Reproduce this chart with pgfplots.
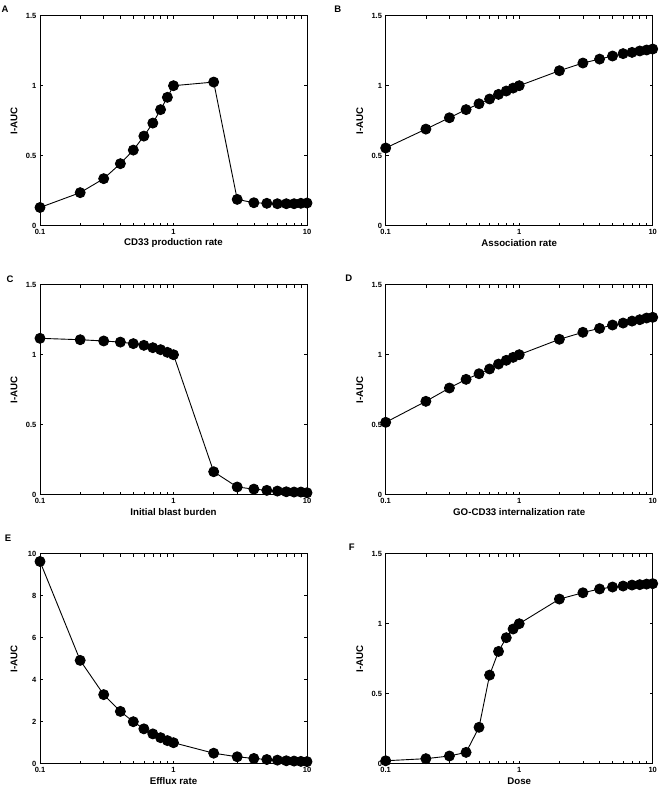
\documentclass[border=0pt]{standalone}
\usepackage{fontspec}
\setmainfont{Liberation Sans}
\usepackage{pgfplots}
\pgfplotsset{compat=1.18}
\usepgfplotslibrary{groupplots}

\pgfplotsset{
  sens/.style={
    scale only axis,
    width=267pt, height=210pt,
    xmode=log,
    xmin=0.1, xmax=10,
    xtick={0.1,1,10},
    xticklabels={0.1,1,10},
    minor xtick={},
    ymin=0,
    tick align=inside,
    major tick length=3pt,
    axis line style={line width=0.8pt},
    every tick/.style={line width=0.6pt},
    clip=false,
    /pgf/number format/assume math mode=true,
    tick label style={font=\fontsize{7.5}{8}\selectfont\bfseries, inner sep=0.5pt},
    xticklabel style={yshift=-2.8pt},
    yticklabel style={xshift=-3pt},
    label style={font=\fontsize{9.7}{11}\selectfont\bfseries},
    xlabel style={at={(axis description cs:0.5,-0.083)}, anchor=center},
    ylabel style={at={(axis description cs:-0.097,0.5)}, anchor=center},
    ylabel={I-AUC},
  },
  pts/.style={black, line width=0.9pt, mark=*, mark size=5pt, mark options={solid, fill=black}},
  iauc/.style={ymax=1.5, ytick={0,0.5,1,1.5}, yticklabels={0,0.5,1,1.5}},
}
\newcommand{\panel}[3]{\node[font=\fontsize{9.5}{11}\selectfont\bfseries] at (rel axis cs:0,1) [xshift=#1, yshift=#2] {#3};}

\begin{document}
\begin{tikzpicture}
\begin{groupplot}[
  group style={group size=2 by 3, horizontal sep=78.7pt, vertical sep=59pt},
  sens,
]
\nextgroupplot[iauc, xlabel={CD33 production rate}]
\coordinate (tl) at (rel axis cs:0,1);
\addplot[pts] coordinates {
(0.1,0.13) (0.2,0.236) (0.3,0.336) (0.4,0.443) (0.5,0.54) (0.6,0.64) (0.7,0.733) (0.8,0.829) (0.9,0.917) (1,1.0)
(2,1.026) (3,0.188) (4,0.164) (5,0.16) (6,0.157) (7,0.157) (8,0.157) (9,0.16) (10,0.162)};
\panel{-35pt}{6pt}{A}

\nextgroupplot[iauc, xlabel={Association rate}]
\addplot[pts] coordinates {
(0.1,0.555) (0.2,0.69) (0.3,0.771) (0.4,0.829) (0.5,0.871) (0.6,0.905) (0.7,0.938) (0.8,0.962) (0.9,0.983) (1,1.0)
(2,1.107) (3,1.162) (4,1.19) (5,1.212) (6,1.229) (7,1.238) (8,1.248) (9,1.255) (10,1.262)};
\panel{-48pt}{6pt}{B}

\nextgroupplot[iauc, xlabel={Initial blast burden}]
\addplot[pts] coordinates {
(0.1,1.117) (0.2,1.107) (0.3,1.098) (0.4,1.09) (0.5,1.079) (0.6,1.067) (0.7,1.05) (0.8,1.036) (0.9,1.017) (1,1.0)
(2,0.164) (3,0.055) (4,0.04) (5,0.031) (6,0.026) (7,0.021) (8,0.019) (9,0.019) (10,0.014)};
\panel{-30pt}{5pt}{C}

\nextgroupplot[iauc, xlabel={GO-CD33 internalization rate}]
\addplot[pts] coordinates {
(0.1,0.517) (0.2,0.667) (0.3,0.762) (0.4,0.824) (0.5,0.864) (0.6,0.898) (0.7,0.933) (0.8,0.96) (0.9,0.981) (1,1.0)
(2,1.11) (3,1.16) (4,1.188) (5,1.212) (6,1.226) (7,1.24) (8,1.25) (9,1.262) (10,1.267)};
\panel{-37pt}{6pt}{D}

\nextgroupplot[ymax=10, ytick={0,2,4,6,8,10}, xlabel={Efflux rate}]
\addplot[pts] coordinates {
(0.1,9.63) (0.2,4.92) (0.3,3.29) (0.4,2.49) (0.5,2.0) (0.6,1.66) (0.7,1.42) (0.8,1.24) (0.9,1.1) (1,1.0)
(2,0.5) (3,0.33) (4,0.25) (5,0.2) (6,0.17) (7,0.14) (8,0.125) (9,0.11) (10,0.1)};
\panel{-32pt}{15pt}{E}

\nextgroupplot[iauc, xlabel={Dose}]
\addplot[pts] coordinates {
(0.1,0.021) (0.2,0.036) (0.3,0.055) (0.4,0.081) (0.5,0.26) (0.6,0.633) (0.7,0.802) (0.8,0.9) (0.9,0.962) (1,1.0)
(2,1.176) (3,1.221) (4,1.248) (5,1.262) (6,1.269) (7,1.276) (8,1.279) (9,1.283) (10,1.286)};
\panel{-34pt}{6pt}{F}
\end{groupplot}
\pgfresetboundingbox
\path[use as bounding box] (tl) ++(-40pt,15.7pt) rectangle ++(661pt,-790pt);
\end{tikzpicture}
\end{document}
